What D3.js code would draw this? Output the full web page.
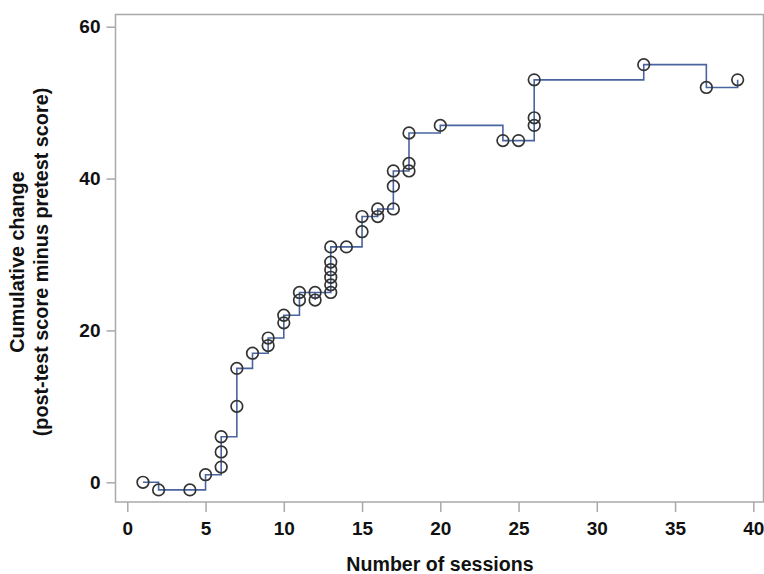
<!DOCTYPE html>
<html>
<head>
<meta charset="utf-8">
<script src="https://cdn.jsdelivr.net/npm/d3@7/dist/d3.min.js"></script>
<style>
  html, body { margin: 0; padding: 0; background: #fff; }
  svg { display: block; }
  text { font-family: "Liberation Sans", Arial, sans-serif; fill: #111; }
</style>
</head>
<body>
<svg id="chart" width="764" height="574"></svg>
<script>
// Data
const sessions = [1,2,4,5,6,6,6,7,7,8,9,9,10,10,11,11,12,12,13,13,13,13,13,13,14,15,15,16,16,17,17,17,18,18,18,20,24,25,26,26,26,33,37,39];
const cumulativeChange = [0,-1,-1,1,2,4,6,10,15,17,18,19,21,22,24,25,24,25,25,26,27,28,29,31,31,33,35,35,36,36,39,41,41,42,46,47,45,45,47,48,53,55,52,53];
const xTicks = [0,5,10,15,20,25,30,35,40];
const yTicks = [0,20,40,60];
const xLabel = "Number of sessions";
const yLabelLines = ["Cumulative change", "(post-test score minus pretest score)"];

const data = sessions.map((s, i) => ({ x: s, y: cumulativeChange[i] }));

const svg = d3.select("#chart");
const frame = { left: 115.5, right: 763.5, top: 14.5, bottom: 502 };

const x = d3.scaleLinear().domain([0, 40]).range([127.3, 753.3]);
const y = d3.scaleLinear().domain([0, 60]).range([482.3, 26.7]);

const axisColor = "#a9a9a9";

// Frame
svg.append("rect")
  .attr("x", frame.left).attr("y", frame.top)
  .attr("width", frame.right - frame.left)
  .attr("height", frame.bottom - frame.top)
  .attr("fill", "none").attr("stroke", axisColor).attr("stroke-width", 1.5);

// X axis
const xAxis = svg.append("g")
  .attr("transform", `translate(0,${frame.bottom})`)
  .call(d3.axisBottom(x).tickValues(xTicks).tickSize(10).tickPadding(10).tickFormat(d3.format("d")));
xAxis.select(".domain").remove();
xAxis.selectAll(".tick line").attr("stroke", axisColor).attr("stroke-width", 1.5);
xAxis.selectAll(".tick text")
  .attr("font-size", 19).attr("font-weight", "bold")
  .attr("font-family", "Liberation Sans, Arial, sans-serif").attr("fill", "#111");

// Y axis
const yAxis = svg.append("g")
  .attr("transform", `translate(${frame.left},0)`)
  .call(d3.axisLeft(y).tickValues(yTicks).tickSize(9).tickPadding(6).tickFormat(d3.format("d")));
yAxis.select(".domain").remove();
yAxis.selectAll(".tick line").attr("stroke", axisColor).attr("stroke-width", 1.5);
yAxis.selectAll(".tick text")
  .attr("font-size", 19).attr("font-weight", "bold")
  .attr("font-family", "Liberation Sans, Arial, sans-serif").attr("fill", "#111");

// Step line
const line = d3.line()
  .x(d => x(d.x)).y(d => y(d.y))
  .curve(d3.curveStepAfter);

svg.append("path")
  .datum(data)
  .attr("d", line)
  .attr("fill", "none")
  .attr("stroke", "#4a64a0")
  .attr("stroke-width", 1.6);

// Markers
svg.append("g").selectAll("circle")
  .data(data)
  .join("circle")
  .attr("cx", d => x(d.x))
  .attr("cy", d => y(d.y))
  .attr("r", 5.8)
  .attr("fill", "none")
  .attr("stroke", "#333")
  .attr("stroke-width", 1.7);

// Axis labels
svg.append("text")
  .attr("x", 440).attr("y", 570.5)
  .attr("text-anchor", "middle")
  .attr("font-size", 19.6).attr("font-weight", "bold")
  .text(xLabel);

const yl = svg.append("text")
  .attr("transform", "translate(0,262) rotate(-90)")
  .attr("text-anchor", "middle")
  .attr("font-size", 19.8).attr("font-weight", "bold");
yl.append("tspan").attr("x", 0).attr("y", 24).text(yLabelLines[0]);
yl.append("tspan").attr("x", 0).attr("y", 47.5).text(yLabelLines[1]);
</script>
</body>
</html>
